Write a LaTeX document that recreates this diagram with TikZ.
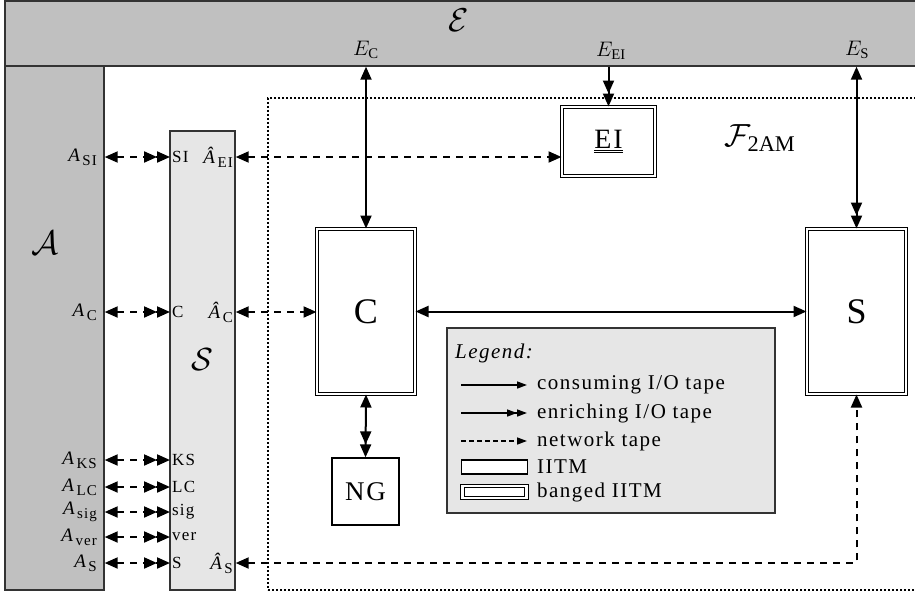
\RequirePackage{fix-cm}
\documentclass[tikz,border=0pt]{standalone}
\usepackage{fontspec}
\setmainfont{Liberation Serif}[LetterSpace=7]
\usetikzlibrary{arrows.meta}
\definecolor{bargray}{HTML}{C0C0C0}
\definecolor{lightbar}{HTML}{E6E6E6}
\definecolor{edgegray}{HTML}{333333}
\begin{document}
\begin{tikzpicture}[x=1pt,y=-1pt,
  >={Triangle[length=13pt,width=11pt]},
  barbox/.style={draw=edgegray, line width=1.4pt, inner sep=0pt},
  conn/.style={line width=2pt},
  net/.style={line width=2pt, dash pattern=on 7pt off 6pt},
  iitm/.style={draw, line width=1.3pt, fill=white, inner sep=0pt},
  banged/.style={draw, line width=1pt, double=white, double distance=2.2pt, fill=white, inner sep=0pt},
  portlab/.style={inner sep=0pt, font=\fontsize{17}{17}\selectfont},
  leglab/.style={anchor=west, inner sep=0pt, font=\fontsize{21}{21}\selectfont},
  legtip/.style={>={Triangle[length=10pt,width=7pt]}}
]
\useasboundingbox (0,0) rectangle (915,594);
\clip (0,0) rectangle (915,594);

% bars
\node[barbox, fill=bargray, minimum width=915pt, minimum height=65pt] (E) at (462.5,33.5) {};
\node[barbox, fill=bargray, minimum width=99pt, minimum height=524pt] (A) at (54.5,328) {};
\node[barbox, fill=lightbar, minimum width=65pt, minimum height=459pt] (S) at (202.5,360.5) {};
\node[draw, dotted, line width=2pt, minimum width=652pt, minimum height=492pt, inner sep=0pt] (F) at (594,344) {};

\node[inner sep=0pt] (Elab) at (459,20) {\fontsize{33}{33}\selectfont$\mathcal{E}$};
\node (Alab) at (45,243) {\fontsize{34}{34}\selectfont$\mathcal{A}$};
\node (Slab) at (202,360) {\fontsize{32}{32}\selectfont$\mathcal{S}$};
\node (Flab) at (760,138) {\fontsize{32}{32}\selectfont$\mathcal{F}_{\mathrm{2AM}}$};

\node[inner sep=0pt] (EC) at (366,50) {\fontsize{21}{21}\selectfont$E_{\mathrm{C}}$};
\node[inner sep=0pt] (EEI) at (611,51) {\fontsize{21}{21}\selectfont$E_{\mathrm{EI}}$};
\node[inner sep=0pt] (ES) at (857,50) {\fontsize{21}{21}\selectfont$E_{\mathrm{S}}$};

% machines
\node[banged, minimum width=93pt, minimum height=69pt] (EI) at (608.5,141.5) {\fontsize{28}{28}\selectfont\underline{\underline{EI}}};
\node[banged, minimum width=98pt, minimum height=165pt] (C) at (366,311.5) {\fontsize{36}{36}\selectfont C};
\node[banged, minimum width=99pt, minimum height=165pt] (Sb) at (856.5,311.5) {\fontsize{36}{36}\selectfont S};
\node[iitm, minimum width=67pt, minimum height=67pt] (NG) at (365.5,491.5) {\fontsize{27}{27}\selectfont NG};

% port coordinates
\coordinate (pSI) at (170,157);
\coordinate (pC) at (170,312);
\coordinate (pKS) at (170,460);
\coordinate (pLC) at (170,487);
\coordinate (psig) at (170,512);
\coordinate (pver) at (170,537);
\coordinate (pS) at (170,563);

% port labels
\foreach \p/\t in {SI/SI, C/C, KS/KS, LC/LC, sig/sig, ver/ver, S/S}{
  \node[portlab, anchor=west] (in\p) at ([xshift=2pt]p\p) {\t};
  \node[portlab, anchor=east] (out\p) at ([xshift=-73pt]p\p) {\fontsize{19}{19}\selectfont\itshape A\raisebox{-4pt}{\upshape\fontsize{15}{15}\selectfont\,\t}};
  \draw[net, <->>] (A.east |- p\p) -- (p\p);
}
\node[portlab, anchor=east] (hEI) at (233,157) {\fontsize{19}{19}\selectfont\itshape Â\raisebox{-4pt}{\upshape\fontsize{15}{15}\selectfont\,EI}};
\node[portlab, anchor=east] (hC) at (233,312) {\fontsize{19}{19}\selectfont\itshape Â\raisebox{-4pt}{\upshape\fontsize{15}{15}\selectfont\,C}};
\node[portlab, anchor=east] (hS) at (233,563) {\fontsize{19}{19}\selectfont\itshape Â\raisebox{-4pt}{\upshape\fontsize{15}{15}\selectfont\,S}};

% network connectors
\draw[net, <->] (S.east |- pSI) -- (EI.west |- pSI);
\draw[net, <->] (S.east |- pC) -- (C.west |- pC);
\draw[net, <->] (S.east |- pS) -- (Sb.south |- pS) -- (Sb.south);

% I/O connectors
\draw[conn, <->] (C |- E.south) -- (C.north);
\draw[conn, ->>] (EI |- E.south) -- (EI.north);
\draw[conn, <->>] (Sb |- E.south) -- (Sb.north);
\draw[conn, <->] (C.east) -- (Sb.west);
\draw[conn, <->>] (C.south) -- (NG.north);

% legend
\node[draw=edgegray, line width=1.3pt, fill=lightbar, minimum width=328pt, minimum height=185pt, inner sep=0pt] (L) at (611,420.5) {};
\node[leglab, font=\fontsize{21}{21}\selectfont\itshape] (Lt) at (455,353) {Legend:};
\coordinate (l1) at (461,385);
\coordinate (l2) at (461,413);
\coordinate (l3) at (461,441);
\coordinate (l4) at (461,467);
\coordinate (l5) at (461,492);
\coordinate (r1) at (527,385);
\coordinate (r2) at (527,413);
\coordinate (r3) at (527,441);
\draw[legtip, line width=1.5pt, ->] (l1) -- (r1);
\draw[legtip, line width=1.5pt, ->>] (l2) -- (r2);
\draw[legtip, line width=1.5pt, dash pattern=on 5pt off 3pt, ->] (l3) -- (r3);
\node[iitm, minimum width=66pt, minimum height=14pt, anchor=west] (li) at (l4) {};
\node[banged, minimum width=64pt, minimum height=12pt, anchor=west] (lb) at ([xshift=1pt]l5) {};
\node[leglab] (t1) at (537,385) {consuming I/O tape};
\node[leglab] (t2) at (537,413) {enriching I/O tape};
\node[leglab] (t3) at (537,441) {network tape};
\node[leglab] (t4) at (537,467) {IITM};
\node[leglab] (t5) at (537,492) {banged IITM};
\end{tikzpicture}
\end{document}
